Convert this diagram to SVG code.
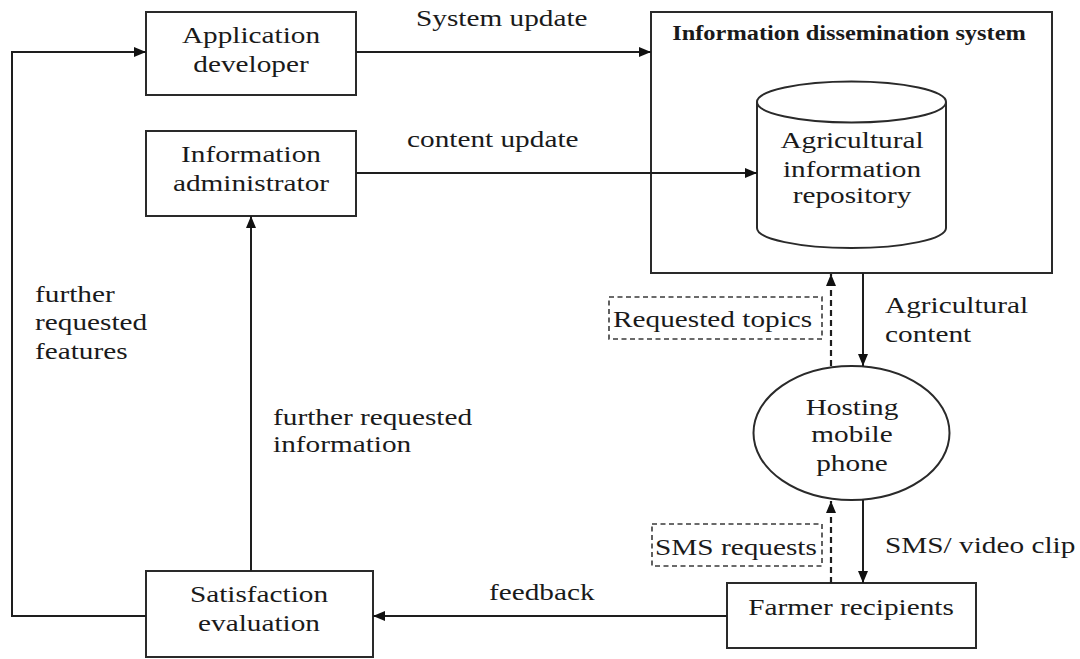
<svg xmlns="http://www.w3.org/2000/svg" width="1080" height="659" viewBox="0 0 1080 659">
  <style>
    .box { fill: #fff; stroke: #2a2a2a; stroke-width: 2; }
    .dash { fill: none; stroke: #3a3a3a; stroke-width: 1.6; stroke-dasharray: 5 3.5; }
    .line { fill: none; stroke: #1e1e1e; stroke-width: 2; }
    .dline { fill: none; stroke: #1e1e1e; stroke-width: 2.2; stroke-dasharray: 6 4; }
    text { font-family: "Liberation Serif", "Times New Roman", serif; font-size: 24px; fill: #1a1a1a; }
    .c { text-anchor: middle; }
    .title { font-weight: bold; font-size: 20px; }
  </style>
  <defs>
    <marker id="arrow" markerUnits="userSpaceOnUse" markerWidth="13" markerHeight="11" refX="12" refY="5" orient="auto">
      <path d="M0,0 L12,5 L0,10 z" fill="#111"/>
    </marker>
  </defs>

  <rect width="1080" height="659" fill="#fff"/>

  <!-- Information dissemination system container -->
  <g id="dissemination-system">
    <rect class="box" x="651" y="12" width="401" height="261"/>
    <text class="title c" transform="translate(849,40) scale(1.22 1)">Information dissemination system</text>
  </g>

  <!-- Repository cylinder -->
  <g id="repository">
    <path class="box" d="M757,102 V228 A94.5,20 0 0 0 946,228 V102"/>
    <ellipse class="box" cx="851.5" cy="102" rx="94.5" ry="20.5"/>
    <text class="c" transform="translate(852,148) scale(1.22 1)">Agricultural</text>
    <text class="c" transform="translate(852,177) scale(1.22 1)">information</text>
    <text class="c" transform="translate(852,203) scale(1.22 1)">repository</text>
  </g>

  <g id="app-developer">
    <rect class="box" x="146" y="12" width="210" height="83"/>
    <text class="c" transform="translate(251,43) scale(1.22 1)">Application</text>
    <text class="c" transform="translate(251,72) scale(1.22 1)">developer</text>
  </g>

  <g id="info-admin">
    <rect class="box" x="146" y="131" width="210" height="85"/>
    <text class="c" transform="translate(251,162) scale(1.22 1)">Information</text>
    <text class="c" transform="translate(251,191) scale(1.22 1)">administrator</text>
  </g>

  <g id="hosting-phone">
    <ellipse class="box" cx="851.5" cy="433" rx="98" ry="67"/>
    <text class="c" transform="translate(852,415) scale(1.22 1)">Hosting</text>
    <text class="c" transform="translate(852,442) scale(1.22 1)">mobile</text>
    <text class="c" transform="translate(852,471) scale(1.22 1)">phone</text>
  </g>

  <g id="farmer-recipients">
    <rect class="box" x="727" y="583" width="249" height="65"/>
    <text class="c" transform="translate(851,615) scale(1.22 1)">Farmer recipients</text>
  </g>

  <g id="satisfaction-evaluation">
    <rect class="box" x="146" y="571" width="227" height="86"/>
    <text class="c" transform="translate(259,602) scale(1.22 1)">Satisfaction</text>
    <text class="c" transform="translate(259,631) scale(1.22 1)">evaluation</text>
  </g>

  <!-- Connectors -->
  <g id="connectors">
    <path class="line" d="M146,616 H12 V52 H146" marker-end="url(#arrow)"/>
    <path class="line" d="M356,52 H651" marker-end="url(#arrow)"/>
    <path class="line" d="M356,173 H757" marker-end="url(#arrow)"/>
    <path class="line" d="M251,571 V216" marker-end="url(#arrow)"/>
    <path class="line" d="M727,616 H373" marker-end="url(#arrow)"/>
    <path class="line" d="M863,273 V366" marker-end="url(#arrow)"/>
    <path class="dline" d="M831,366 V274" marker-end="url(#arrow)"/>
    <path class="line" d="M863,500 V583" marker-end="url(#arrow)"/>
    <path class="dline" d="M831,583 V501" marker-end="url(#arrow)"/>
  </g>

  <!-- Connector labels -->
  <g id="labels">
    <text transform="translate(416,26) scale(1.22 1)">System update</text>
    <text transform="translate(407,147) scale(1.22 1)">content update</text>
    <text transform="translate(35,302) scale(1.22 1)">further</text>
    <text transform="translate(35,330) scale(1.22 1)">requested</text>
    <text transform="translate(35,359) scale(1.22 1)">features</text>
    <text transform="translate(273,425) scale(1.22 1)">further requested</text>
    <text transform="translate(273,452) scale(1.22 1)">information</text>
    <text transform="translate(489,600) scale(1.22 1)">feedback</text>
    <text transform="translate(885,313) scale(1.22 1)">Agricultural</text>
    <text transform="translate(885,342) scale(1.22 1)">content</text>
    <text transform="translate(885,553) scale(1.22 1)">SMS/ video clip</text>
    <rect class="dash" x="609" y="297" width="213" height="42"/>
    <text transform="translate(613,327) scale(1.22 1)">Requested topics</text>
    <rect class="dash" x="652" y="524" width="170" height="42"/>
    <text transform="translate(655,555) scale(1.22 1)">SMS requests</text>
  </g>
</svg>
